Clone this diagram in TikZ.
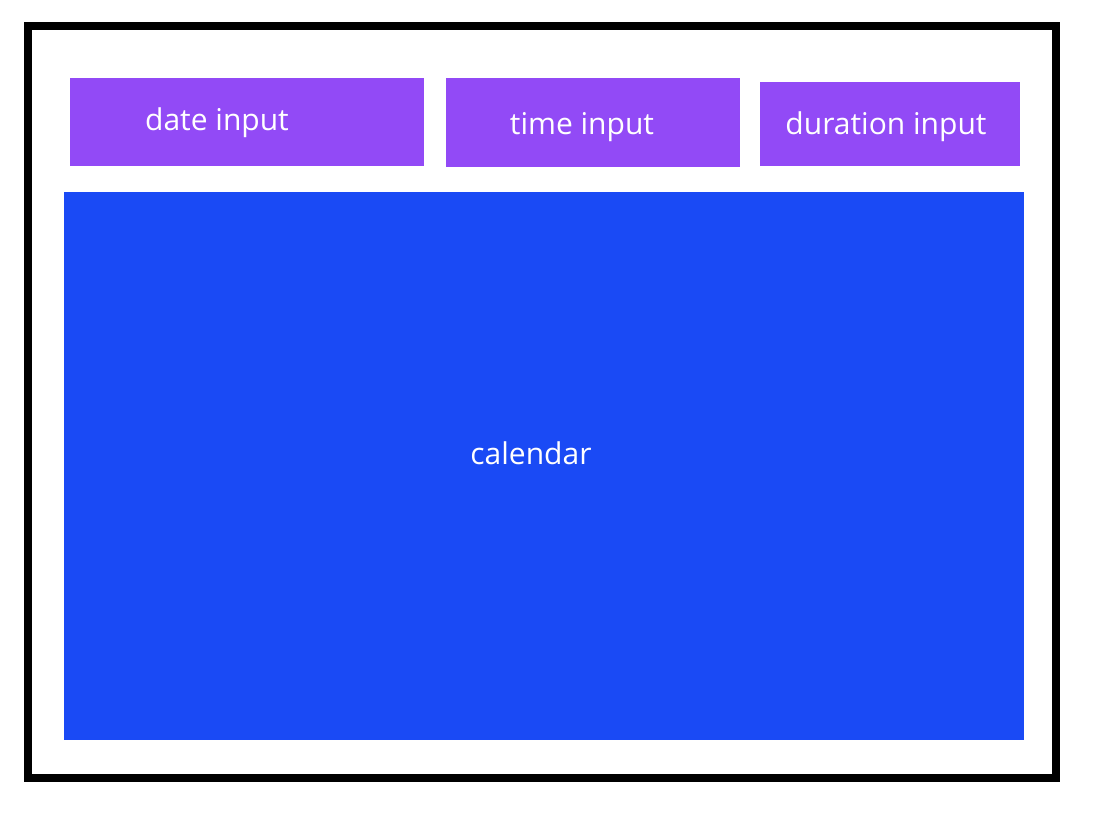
\documentclass[tikz,border=0pt]{standalone}
\usepackage{fontspec}
\setmainfont{Open Sans}
\definecolor{boxpurple}{RGB}{146,74,246}
\definecolor{calblue}{RGB}{26,74,245}
\tikzset{
  inputbox/.style={fill=boxpurple, draw=none},
  calbox/.style={fill=calblue, draw=none},
  lbl/.style={text=white, font=\fontsize{30}{34}\selectfont, inner sep=0pt, anchor=base},
  frame/.style={draw=black, line width=8pt}
}
\begin{document}
\begin{tikzpicture}[x=1pt,y=-1pt]
\useasboundingbox (0,0) rectangle (1098,812);
\fill[white] (0,0) rectangle (1098,812);
\draw[frame] (28,26) rectangle (1056,778);
\path[inputbox] (70,78) rectangle (424,166);
\path[inputbox] (446,78) rectangle (740,167);
\path[inputbox] (760,82) rectangle (1020,166);
\path[calbox] (64,192) rectangle (1024,740);
\node[lbl] (date) at (217,130) {date input};
\node[lbl] (time) at (582,134) {time input};
\node[lbl] (dur) at (886,134) {duration input};
\node[lbl] (cal) at (531,464) {calendar};
\end{tikzpicture}
\end{document}
